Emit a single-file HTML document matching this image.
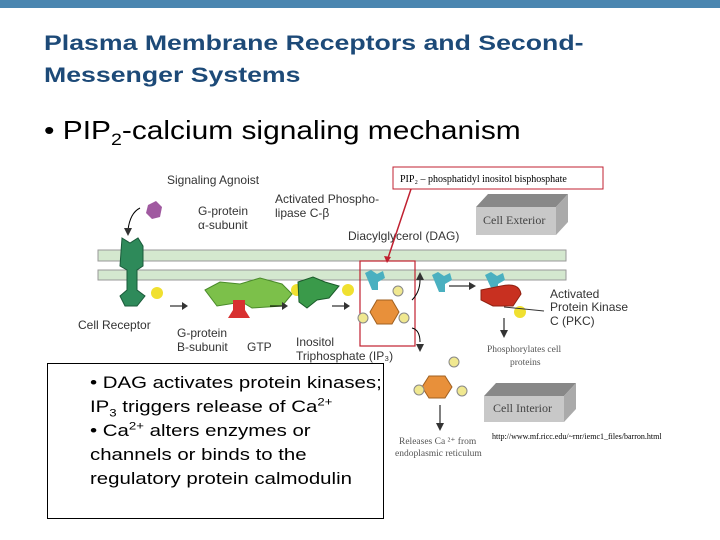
<!DOCTYPE html>
<html><head><meta charset="utf-8"><style>
body{margin:0;width:720px;height:540px;background:#fff;position:relative;overflow:hidden;font-family:"Liberation Sans",sans-serif}
.a{position:absolute}
sub,sup{line-height:0}
</style></head><body>
<div class="a" style="left:0;top:0;width:720px;height:8px;background:#4a86b0"></div>
<div class="a" style="left:44px;top:28px;font-size:21px;font-weight:bold;color:#1d4a78;line-height:32px;transform:scaleX(1.27);transform-origin:0 0;white-space:nowrap">Plasma Membrane Receptors and Second-<br>Messenger Systems</div>
<div class="a" style="left:44px;top:115px;font-size:26px;color:#000;transform:scaleX(1.15);transform-origin:0 0;white-space:nowrap">• PIP<sub style="font-size:17px">2</sub>-calcium signaling mechanism</div>
<svg class="a" style="left:0;top:0" width="720" height="540">
<g font-family="Liberation Sans,sans-serif" font-size="12" fill="#333">
<rect x="98" y="250" width="468" height="11" fill="#d4e8cf" stroke="#999"/>
<rect x="98" y="270" width="468" height="10" fill="#d4e8cf" stroke="#999"/>
<text x="167" y="184">Signaling Agnoist</text>
<text x="275" y="203">Activated Phospho-</text>
<text x="275" y="217">lipase C-β</text>
<text x="198" y="215">G-protein</text>
<text x="198" y="229">α-subunit</text>
<text x="348" y="240">Diacylglycerol (DAG)</text>
<text x="78" y="329">Cell Receptor</text>
<text x="177" y="337">G-protein</text>
<text x="177" y="351">B-subunit</text>
<text x="247" y="351">GTP</text>
<text x="296" y="346">Inositol</text>
<text x="296" y="360">Triphosphate (IP₃)</text>
<text x="550" y="298">Activated</text>
<text x="550" y="311">Protein Kinase</text>
<text x="550" y="325">C (PKC)</text>
<path d="M148 205 l8 -4 l6 6 l-2 10 l-8 2 l-6 -6z" fill="#a05aa0"/>
<path d="M140 208 q-10 5 -12 22" stroke="#000" fill="none"/><path d="M124 228 l4 8 l4 -8z"/>
<path d="M122 238 l8 5 l8 -5 l5 8 v20 l-6 4 v20 l8 6 l-8 10 h-12 l-5 -10 l7 -6 v-20 l-7 -4 z" fill="#2e8a5a" stroke="#1a5a3a"/>
<circle cx="157" cy="293" r="6" fill="#f0e030"/>
<path d="M170 306 h12" stroke="#000"/><path d="M182 302 l6 4 l-6 4z"/>
<path d="M205 290 l15 -8 l20 2 l20 -6 l22 6 l10 10 l-10 12 l-30 2 l-10 -6 l-25 4z" fill="#7cc04a" stroke="#4a8a2a"/>
<path d="M233 300 h12 v10 l5 8 h-22 l5 -8z" fill="#d83030"/>
<circle cx="297" cy="290" r="6" fill="#f0e030"/>
<path d="M270 306 h12" stroke="#000"/><path d="M282 302 l6 4 l-6 4z"/>
<path d="M298 282 l15 -5 l12 5 l14 4 l-10 12 l-12 2 l-10 8 l-8 -6z" fill="#3a9a4a" stroke="#1a5a2a"/>
<circle cx="348" cy="290" r="6" fill="#f0e030"/>
<path d="M332 306 h12" stroke="#000"/><path d="M344 302 l6 4 l-6 4z"/>
<rect x="360" y="261" width="55" height="85" fill="none" stroke="#c02030" stroke-width="1.2"/>
<path d="M365 273 l6 -3 l6 4 l6 -3 l2 7 l-7 4 v8 h-6 z" fill="#4ab0c0"/>
<polygon points="370,312 377,300 392,300 399,312 392,324 377,324" fill="#e8903a" stroke="#a06020"/>
<circle cx="398" cy="291" r="5" fill="#f0e890" stroke="#888"/><circle cx="404" cy="318" r="5" fill="#f0e890" stroke="#888"/><circle cx="363" cy="318" r="5" fill="#f0e890" stroke="#888"/>
<path d="M412 300 q8 -8 8 -20" stroke="#000" fill="none"/><path d="M416 280 l4 -8 l4 8z"/>
<path d="M412 328 q8 2 8 14" stroke="#000" fill="none"/><path d="M416 344 l4 8 l4 -8z"/>
<path d="M432 275 l6 -3 l6 4 l6 -3 l2 7 l-7 4 v8 h-6z" fill="#4ab0c0"/>
<path d="M449 286 h22" stroke="#000"/><path d="M469 282 l7 4 l-7 4z"/>
<path d="M485 275 l6 -3 l6 4 l6 -3 l2 7 l-7 4 v6 h-6z" fill="#4ab0c0"/>
<path d="M481 290 q10 -2 20 -4 q18 -4 20 8 l-8 12 l-20 0 l-12 -6z" fill="#c83020" stroke="#902010"/>
<circle cx="520" cy="312" r="6" fill="#f0e030"/>
<path d="M504 307 l40 4" stroke="#333"/>
<path d="M504 318 v14" stroke="#000"/><path d="M500 330 l4 8 l4 -8z"/>
<g font-family="Liberation Serif,serif" font-size="9.5" fill="#555"><text x="487" y="352">Phosphorylates cell</text><text x="510" y="365">proteins</text>
<text x="399" y="444">Releases Ca ²⁺ from</text><text x="395" y="456">endoplasmic reticulum</text></g>
<polygon points="422,387 429,376 445,376 452,387 445,398 429,398" fill="#e8903a" stroke="#a06020"/>
<circle cx="454" cy="362" r="5" fill="#f0e890" stroke="#888"/><circle cx="419" cy="390" r="5" fill="#f0e890" stroke="#888"/><circle cx="462" cy="391" r="5" fill="#f0e890" stroke="#888"/>
<path d="M440 405 v20" stroke="#000"/><path d="M436 423 l4 8 l4 -8z"/>
<polygon points="476,207 488,194 568,194 556,207" fill="#888"/><polygon points="556,207 568,194 568,222 556,235" fill="#aaa"/>
<rect x="476" y="207" width="80" height="28" fill="#c8c8c8"/>
<text x="483" y="224" font-family="Liberation Serif,serif" font-size="12" fill="#444">Cell Exterior</text>
<polygon points="484,396 496,383 576,383 564,396" fill="#888"/><polygon points="564,396 576,383 576,409 564,422" fill="#aaa"/>
<rect x="484" y="396" width="80" height="26" fill="#c8c8c8"/>
<text x="493" y="412" font-family="Liberation Serif,serif" font-size="12" fill="#444">Cell Interior</text>
<text x="492" y="439" font-family="Liberation Serif,serif" font-size="8" fill="#000">http://www.mf.ricc.edu/~rnr/iemc1_files/barron.html</text>
<rect x="393" y="167" width="210" height="22" fill="#fff" stroke="#c02030"/>
<text x="400" y="182" font-family="Liberation Serif,serif" font-size="10" fill="#000">PIP₂ – phosphatidyl inositol bisphosphate</text>
<path d="M411 189 L388 258" stroke="#c02030" stroke-width="1.5"/><path d="M384 256 l3 7 l4 -6z" fill="#c02030"/>
</g>
<rect x="47.5" y="363.5" width="336" height="155" fill="#fff" stroke="#000"/>
</svg>
<div class="a" style="left:90px;top:371px;font-size:17px;line-height:24px;color:#000;transform:scaleX(1.2);transform-origin:0 0;white-space:nowrap">• DAG activates protein kinases;<br>IP<sub style="font-size:11px">3</sub> triggers release of Ca<sup style="font-size:11px">2+</sup><br>• Ca<sup style="font-size:11px">2+</sup> alters enzymes or<br>channels or binds to the<br>regulatory protein calmodulin</div>
</body></html>
